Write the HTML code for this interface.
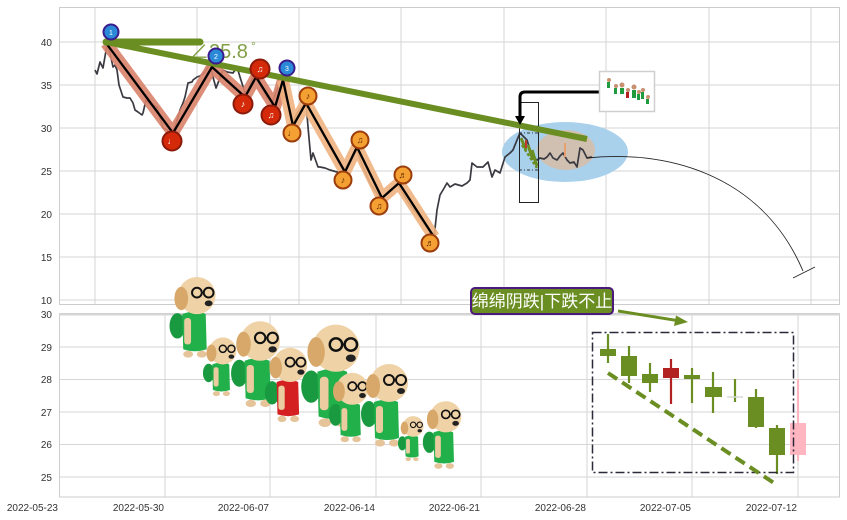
<!DOCTYPE html>
<html><head><meta charset="utf-8"><style>
html,body{margin:0;padding:0;background:#fff;}
svg{display:block;}
text{font-family:"Liberation Sans","Noto Sans CJK SC",sans-serif;}
</style></head><body>
<svg width="847" height="520" viewBox="0 0 847 520" xmlns="http://www.w3.org/2000/svg">
<defs>
<symbol id="dog" viewBox="0 0 50 90">
 <ellipse cx="9" cy="52" rx="8" ry="13" fill="#1a9a40"/>
 <path d="M14 40 Q27 35 38 40 L39 76 Q27 80 15 76 Z" fill="currentColor"/>
 <rect x="16" y="44" width="7" height="27" rx="3" fill="#ebcba0"/>
 <ellipse cx="20" cy="81" rx="5" ry="3.5" fill="#e6c49a"/>
 <ellipse cx="34" cy="81" rx="5" ry="3.5" fill="#e6c49a"/>
 <ellipse cx="29" cy="21" rx="19" ry="19" fill="#efd2a6"/>
 <ellipse cx="13" cy="24" rx="7" ry="12" fill="#d8a86a"/>
 <circle cx="29" cy="18" r="5" fill="none" stroke="#111" stroke-width="2"/>
 <circle cx="41" cy="18" r="5" fill="none" stroke="#111" stroke-width="2"/>
 <line x1="34" y1="18" x2="36" y2="18" stroke="#111" stroke-width="1.5"/>
 <ellipse cx="41" cy="29" rx="4" ry="3" fill="#222"/>
</symbol>
</defs>
<rect width="847" height="520" fill="#fff"/>

<!-- TOP AXES -->
<g stroke="#d6d6d6" stroke-width="1">
 <line x1="59" y1="42" x2="840" y2="42"/><line x1="59" y1="85" x2="840" y2="85"/>
 <line x1="59" y1="128" x2="840" y2="128"/><line x1="59" y1="171" x2="840" y2="171"/>
 <line x1="59" y1="214" x2="840" y2="214"/><line x1="59" y1="257" x2="840" y2="257"/>
 <line x1="59" y1="300" x2="840" y2="300"/>
 <line x1="95" y1="7" x2="95" y2="305"/><line x1="197" y1="7" x2="197" y2="305"/>
 <line x1="299" y1="7" x2="299" y2="305"/><line x1="401" y1="7" x2="401" y2="305"/>
 <line x1="504" y1="7" x2="504" y2="305"/><line x1="606" y1="7" x2="606" y2="305"/>
 <line x1="709" y1="7" x2="709" y2="305"/><line x1="811" y1="7" x2="811" y2="305"/>
</g>
<rect x="59.5" y="7.5" width="780" height="297" fill="none" stroke="#cccccc"/>
<g font-size="10" fill="#333" text-anchor="end">
 <text x="52" y="46">40</text><text x="52" y="89">35</text><text x="52" y="132">30</text>
 <text x="52" y="175">25</text><text x="52" y="218">20</text><text x="52" y="261">15</text>
 <text x="52" y="304">10</text>
</g>

<!-- ellipses -->
<ellipse cx="565" cy="152" rx="63" ry="30" fill="#a9d1ec"/>
<ellipse cx="566" cy="150" rx="29" ry="20" fill="#d0c0b2"/>

<!-- price line -->
<polyline fill="none" stroke="#3a3a42" stroke-width="1.7" stroke-linejoin="round" points="95,70 97,74 100,62 103,68 107,45 110,53 113,67 115,65 117,70 119,85 123,97 127,98 130,98 133,103 135,110 138,112 142,115 143,113 146,100 150,104 157,107 163,128 167,130 170,133 175,127 180,110 183,103 185,97 188,83 192,82 193,80 197,77 200,76 205,72 210,63 213,77 216,88 218,83 223,70 227,72 233,73 237,67 240,77 245,93 248,90 253,77 257,80 262,87 267,97 272,103 277,90 282,80 285,97 290,110 293,123 297,113 302,107 306,102 308,127 311,160 313,153 318,167 320,167 325,168 330,170 337,172 343,172 350,160 357,150 362,165 370,183 378,195 382,198 390,190 398,185 402,192 410,205 418,215 425,225 432,235 434,238 437,210 440,195 443,190 447,183 450,187 455,184 462,186 467,183 470,180 472,163 477,167 483,167 488,162 492,177 495,170 500,173 505,157 510,153 513,150 517,140 520,133 523,136 527,140 530,150 533,157 537,160 540,158 544,159 547,157 550,153 553,158 557,160 560,156 563,153 567,160 570,163 574,162 577,167 580,148 583,150 587,158 592,157"/>

<!-- zigzag bands -->
<polyline fill="none" stroke="#d9826a" stroke-opacity="0.9" stroke-width="12" stroke-linejoin="round" points="106,43 173,133 212,67 245,97 256,77 275,107 283,80"/>
<polyline fill="none" stroke="#efb27f" stroke-opacity="0.9" stroke-width="12" stroke-linejoin="round" points="283,80 293,126 306,103 345,172 357,147 382,198 399,183 434,237"/>
<polyline fill="none" stroke="#000" stroke-width="2.3" stroke-linejoin="round" points="106,43 173,133 212,67 245,97 256,77 275,107 283,80 293,126 306,103 345,172 357,147 382,198 399,183 434,237"/>

<!-- mini candles in rect -->
<g stroke="#6b8e23" stroke-width="3">
 <line x1="521" y1="138" x2="526" y2="150"/><line x1="528" y1="145" x2="533" y2="160"/>
 <line x1="532" y1="150" x2="537" y2="166"/>
</g>
<line x1="522" y1="145" x2="537" y2="168" stroke="#6b8e23" stroke-width="2.5" stroke-dasharray="3,2"/>
<line x1="526" y1="140" x2="526" y2="148" stroke="#c0392b" stroke-width="2"/>
<line x1="565" y1="143" x2="565" y2="157" stroke="#e8a070" stroke-width="2"/>
<line x1="519" y1="133" x2="538" y2="133" stroke="#333" stroke-width="1" stroke-dasharray="3,2,1,2"/>
<line x1="519" y1="170" x2="538" y2="170" stroke="#333" stroke-width="1" stroke-dasharray="3,2,1,2"/>
<rect x="519.5" y="102.5" width="19" height="100" fill="none" stroke="#222" stroke-width="1"/>

<!-- green trend lines -->
<line x1="106" y1="42" x2="200" y2="42" stroke="#6b8e23" stroke-width="7" stroke-linecap="round"/>
<line x1="106" y1="42" x2="587" y2="139" stroke="#6b8e23" stroke-width="6"/>
<text x="189" y="58" font-size="20" fill="#6b8e23" fill-opacity="0.85">∠25.8</text>
<text x="251" y="50" font-size="12" fill="#6b8e23" fill-opacity="0.85">°</text>

<!-- markers -->
<g stroke-width="2">
 <circle cx="172" cy="141" r="9.5" fill="#d42a0a" stroke="#8b1a0a"/>
 <circle cx="260" cy="69" r="9.5" fill="#d42a0a" stroke="#8b1a0a"/>
 <circle cx="243" cy="104" r="9.5" fill="#d42a0a" stroke="#8b1a0a"/>
 <circle cx="271" cy="115" r="9.5" fill="#d42a0a" stroke="#8b1a0a"/>
 <circle cx="292" cy="133" r="8.5" fill="#f5a033" stroke="#9c3d0c"/>
 <circle cx="308" cy="96" r="8.5" fill="#f5a033" stroke="#9c3d0c"/>
 <circle cx="343" cy="180" r="8.5" fill="#f5a033" stroke="#9c3d0c"/>
 <circle cx="360" cy="140" r="8.5" fill="#f5a033" stroke="#9c3d0c"/>
 <circle cx="379" cy="206" r="8.5" fill="#f5a033" stroke="#9c3d0c"/>
 <circle cx="403" cy="175" r="8.5" fill="#f5a033" stroke="#9c3d0c"/>
 <circle cx="430" cy="243" r="8.5" fill="#f5a033" stroke="#9c3d0c"/>
 <circle cx="111" cy="32" r="7.5" fill="#2a8ad8" stroke="#3b1c8c"/>
 <circle cx="216" cy="56" r="7.5" fill="#2a8ad8" stroke="#3b1c8c"/>
 <circle cx="287" cy="68" r="7.5" fill="#2a8ad8" stroke="#3b1c8c"/>
</g>
<g font-size="9" text-anchor="middle" fill="#fff">
 <text x="172" y="144">♩</text><text x="260" y="72">♫</text><text x="243" y="107">♪</text><text x="271" y="118">♫</text>
</g>
<g font-size="9" text-anchor="middle" fill="#5a2a00">
 <text x="292" y="136">♩</text><text x="308" y="99">♪</text><text x="343" y="183">♪</text><text x="360" y="143">♫</text>
 <text x="379" y="209">♫</text><text x="403" y="178">♬</text><text x="430" y="246">♬</text>
</g>
<g font-size="7" text-anchor="middle" fill="#fff">
 <text x="111" y="35">1</text><text x="216" y="59">2</text><text x="287" y="71">3</text>
</g>

<!-- curved arc with bar end -->
<path d="M587,158 C660,150 760,170 803,271" fill="none" stroke="#222" stroke-width="0.9"/>
<line x1="793" y1="278" x2="815" y2="267" stroke="#222" stroke-width="0.9"/>

<!-- inset and arrow -->
<path d="M600,92 L525,92 Q520,92 520,97 L520,118" fill="none" stroke="#000" stroke-width="3"/>
<polygon points="515,116 525,116 520,125" fill="#000"/>
<rect x="599.5" y="71.5" width="55" height="40" fill="#fff" stroke="#cfcfcf" stroke-width="1.5"/>
<g>
 <circle cx="609" cy="80" r="2" fill="#c89070"/><rect x="607" y="82" width="3" height="6" fill="#1f9a3f"/>
 <circle cx="616" cy="86" r="2" fill="#c89070"/><rect x="614" y="88" width="3" height="6" fill="#1f9a3f"/>
 <circle cx="622" cy="85" r="2.5" fill="#c89070"/><rect x="620" y="88" width="4" height="6" fill="#1f9a3f"/>
 <circle cx="628" cy="90" r="2" fill="#c89070"/><rect x="626" y="92" width="3" height="6" fill="#b32020"/>
 <circle cx="634" cy="87" r="2.5" fill="#c89070"/><rect x="632" y="90" width="4" height="8" fill="#1f9a3f"/>
 <circle cx="639" cy="92" r="2" fill="#c89070"/><rect x="637" y="94" width="3" height="6" fill="#1f9a3f"/>
 <circle cx="643" cy="90" r="2" fill="#c89070"/><rect x="641" y="92" width="3" height="7" fill="#1f9a3f"/>
 <circle cx="648" cy="97" r="2" fill="#c89070"/><rect x="646" y="99" width="3" height="5" fill="#1f9a3f"/>
</g>

<!-- BOTTOM AXES -->
<g stroke="#d6d6d6" stroke-width="1">
 <line x1="59" y1="347" x2="840" y2="347"/><line x1="59" y1="379.5" x2="840" y2="379.5"/>
 <line x1="59" y1="412" x2="840" y2="412"/><line x1="59" y1="444.5" x2="840" y2="444.5"/>
 <line x1="59" y1="477" x2="840" y2="477"/>
 <line x1="165" y1="313" x2="165" y2="497"/><line x1="270" y1="313" x2="270" y2="497"/>
 <line x1="376" y1="313" x2="376" y2="497"/><line x1="481" y1="313" x2="481" y2="497"/>
 <line x1="587" y1="313" x2="587" y2="497"/><line x1="692" y1="313" x2="692" y2="497"/>
 <line x1="798" y1="313" x2="798" y2="497"/>
</g>
<rect x="59.5" y="313.5" width="780" height="183.5" fill="none" stroke="#cccccc"/>
<line x1="59" y1="314.5" x2="840" y2="314.5" stroke="#d6d6d6" stroke-width="2"/>
<g font-size="10" fill="#333" text-anchor="end">
 <text x="52" y="318">30</text><text x="52" y="351">29</text><text x="52" y="383">28</text>
 <text x="52" y="416">27</text><text x="52" y="448">26</text><text x="52" y="481">25</text>
</g>
<g font-size="10" fill="#333" text-anchor="end">
 <text x="58" y="511">2022-05-23</text><text x="164" y="511">2022-05-30</text>
 <text x="269" y="511">2022-06-07</text><text x="375" y="511">2022-06-14</text>
 <text x="480" y="511">2022-06-21</text><text x="586" y="511">2022-06-28</text>
 <text x="691" y="511">2022-07-05</text><text x="797" y="511">2022-07-12</text>
</g>

<!-- candles -->
<g stroke-width="2.2">
 <line x1="608" y1="334" x2="608" y2="363" stroke="#6b8e23"/><rect x="600" y="349" width="16" height="7" fill="#6b8e23"/>
 <line x1="629" y1="346" x2="629" y2="383" stroke="#6b8e23"/><rect x="621" y="356" width="16" height="20" fill="#6b8e23"/>
 <line x1="650" y1="363" x2="650" y2="392" stroke="#6b8e23"/><rect x="642" y="374" width="16" height="9" fill="#6b8e23"/>
 <line x1="671" y1="359" x2="671" y2="404" stroke="#b22222"/><rect x="663" y="368" width="16" height="10" fill="#b22222"/>
 <line x1="692" y1="368" x2="692" y2="403" stroke="#6b8e23"/><rect x="684" y="375" width="16" height="4" fill="#6b8e23"/>
 <line x1="713" y1="372" x2="713" y2="413" stroke="#6b8e23"/><rect x="705" y="387" width="17" height="10" fill="#6b8e23"/>
 <line x1="735" y1="379" x2="735" y2="402" stroke="#6b8e23"/><line x1="727" y1="397" x2="743" y2="397" stroke="#d8d8d8" stroke-width="1.5"/>
 <line x1="756" y1="389" x2="756" y2="428" stroke="#6b8e23"/><rect x="748" y="397" width="16" height="30" fill="#6b8e23"/>
 <line x1="777" y1="425" x2="777" y2="474" stroke="#6b8e23"/><rect x="769" y="428" width="16" height="27" fill="#6b8e23"/>
 <line x1="798" y1="379" x2="798" y2="461" stroke="#ffb6c1"/><rect x="790" y="423" width="16" height="32" fill="#ffb6c1"/>
</g>
<rect x="592.5" y="332.5" width="201" height="140" fill="none" stroke="#2a2a3a" stroke-width="1.5" stroke-dasharray="9,3,2,3"/>
<line x1="608" y1="373" x2="777" y2="485" stroke="#6b8e23" stroke-width="4" stroke-dasharray="11,6"/>

<!-- annotation -->
<line x1="618" y1="311" x2="679" y2="320.8" stroke="#6b8e23" stroke-width="3"/>
<polygon points="688,322 676,315.5 674,326" fill="#6b8e23"/>
<rect x="471" y="288" width="142" height="26" rx="4" fill="#6b8e23" stroke="#4b1a7a" stroke-width="2"/>
<text x="542" y="307" font-size="17" fill="#fff" text-anchor="middle">绵绵阴跌|下跌不止</text>

<!-- dogs -->
<g color="#22b04a">
 <use href="#dog" x="168" y="275" width="50" height="88"/>
 <use href="#dog" x="202" y="336" width="36" height="64"/>
 <use href="#dog" x="230" y="319" width="52" height="94"/>
 <use href="#dog" x="263" y="346" width="47" height="81" color="#d42020"/>
 <use href="#dog" x="300" y="320" width="62" height="116"/>
 <use href="#dog" x="328" y="368" width="42" height="82"/>
 <use href="#dog" x="360" y="357" width="50" height="100"/>
 <use href="#dog" x="397" y="415" width="28" height="49"/>
 <use href="#dog" x="422" y="399" width="41" height="75"/>
</g>
</svg>
</body></html>
